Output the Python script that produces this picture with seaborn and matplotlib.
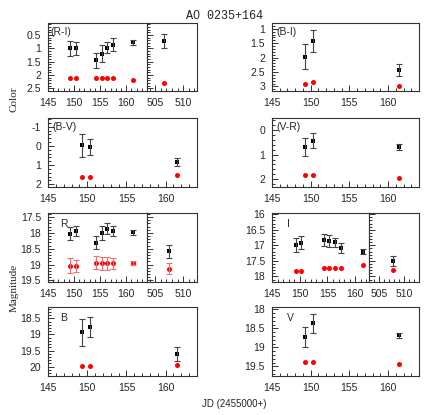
import matplotlib
matplotlib.use("Agg")
import matplotlib.pyplot as plt
import seaborn as sns
from matplotlib.ticker import MultipleLocator

sns.set_style("ticks")
plt.rcParams['font.family'] = ['Liberation Sans', 'DejaVu Sans']

W, H = 443, 415

# JD - 2455000 of the observing nights
jd_all = [149.3, 150.3, 154.3, 155.3, 156.4, 157.4, 161.4]
jd_bv = [149.3, 150.3, 161.4]

# (R-I) colour
ri_val = [1.0, 1.0, 1.45, 1.2, 0.97, 0.86, 0.78]
ri_err = [0.27, 0.25, 0.27, 0.32, 0.22, 0.24, 0.11]
ri_ref = [2.12, 2.12, 2.1, 2.1, 2.1, 2.1, 2.17]
ri_late_jd = [506.5]
ri_late_val = [0.72]
ri_late_err = [0.27]
ri_late_ref = [2.3]

# (B-I) colour
bi_val = [1.97, 1.43, 2.43]
bi_err = [0.44, 0.37, 0.21]
bi_ref = [2.9, 2.86, 3.0]

# (B-V) colour
bv_val = [-0.03, 0.05, 0.84]
bv_err = [0.58, 0.42, 0.22]
bv_ref = [1.6, 1.6, 1.54]

# (V-R) colour
vr_val = [0.69, 0.42, 0.69]
vr_err = [0.36, 0.31, 0.11]
vr_ref = [1.83, 1.82, 1.97]

# R magnitude
r_val = [18.02, 17.93, 18.31, 18.0, 17.86, 17.95, 17.98]
r_err = [0.21, 0.16, 0.21, 0.21, 0.17, 0.16, 0.07]
r_ref = [19.03, 19.05, 18.94, 18.96, 18.96, 18.96, 18.95]
r_ref_err = [0.23, 0.18, 0.2, 0.21, 0.2, 0.18, 0.05]
r_late_jd = [507.4]
r_late_val = [18.58]
r_late_err = [0.2]
r_late_ref = [19.13]
r_late_ref_err = [0.18]

# I magnitude
i_val = [16.99, 16.92, 16.83, 16.87, 16.9, 17.1, 17.2]
i_err = [0.21, 0.21, 0.19, 0.19, 0.15, 0.16, 0.08]
i_ref = [17.81, 17.84, 17.72, 17.74, 17.73, 17.74, 17.64]
i_late_jd = [507.7]
i_late_val = [17.5]
i_late_err = [0.15]
i_late_ref = [17.8]

# B magnitude
b_val = [18.94, 18.78, 19.6]
b_err = [0.41, 0.31, 0.21]
b_ref = [19.97, 19.97, 19.96]

# V magnitude
v_val = [18.72, 18.37, 18.68]
v_err = [0.26, 0.25, 0.07]
v_ref = [19.38, 19.38, 19.43]


fig = plt.figure(figsize=(W / 100, H / 100), dpi=100)


def make_ax(x0, x1, top, bottom):
    ax = fig.add_axes([x0 / W, 1 - bottom / H, (x1 - x0) / W, (bottom - top) / H])
    for sp in ax.spines.values():
        sp.set_linewidth(0.8)
        sp.set_color('#333333')
    ax.tick_params(which='both', direction='in', labelsize=7.5, pad=5,
                   color='#333333', width=0.7)
    ax.tick_params(which='major', length=4)
    ax.tick_params(which='minor', length=2)
    return ax


def style(ax, ylim, ymaj, ymin, xlim, xlabels=True, ylabels=True):
    ax.set_ylim(*ylim)
    ax.set_xlim(*xlim)
    ax.yaxis.set_major_locator(MultipleLocator(ymaj))
    ax.yaxis.set_minor_locator(MultipleLocator(ymin))
    ax.xaxis.set_major_locator(MultipleLocator(5))
    ax.xaxis.set_minor_locator(MultipleLocator(1))
    ax.yaxis.set_major_formatter(plt.FuncFormatter(lambda v, p: f"{v:g}"))
    ax.tick_params(labelleft=ylabels, labelbottom=xlabels)
    ax.set_xlabel('')
    ax.set_ylabel('')


def draw(ax, x, y, yerr, ref, ref_err=None):
    ax.errorbar(x, y, yerr=yerr, fmt='none', ecolor='#444444',
                elinewidth=0.8, capsize=2, capthick=0.8)
    if ref_err is not None:
        ax.errorbar(x, ref, yerr=ref_err, fmt='none', ecolor='#f07070',
                    elinewidth=0.8, capsize=2, capthick=0.8)
    sns.scatterplot(x=x, y=y, ax=ax, color='black', marker='s', s=9,
                    linewidth=0, legend=False)
    sns.scatterplot(x=x, y=ref, ax=ax, color='red', marker='o', s=13,
                    linewidth=0, legend=False)


def label(ax, txt, dx, dy):
    ax.annotate(txt, xy=(0, 1), xycoords='axes fraction', xytext=(dx, -dy),
                textcoords='offset pixels', ha='left', va='top', fontsize=7.5)


rows = [(23, 91), (118, 187), (213, 282), (307, 376)]
LX0, LBRK, LX1 = 48, 147, 197
RX0, RX1 = 272, 419

# row 1 left: (R-I), broken axis
t, b = rows[0]
ax = make_ax(LX0, LBRK, t, b)
draw(ax, jd_all, ri_val, ri_err, ri_ref)
style(ax, (2.6, 0.05), 0.5, 0.1, (145, 164))
label(ax, '(R-I)', 2, 4)
ax2 = make_ax(LBRK, LX1, t, b)
draw(ax2, ri_late_jd, ri_late_val, ri_late_err, ri_late_ref)
style(ax2, (2.6, 0.05), 0.5, 0.1, (503.5, 512.5), ylabels=False)

# row 1 right: (B-I)
ax = make_ax(RX0, RX1, t, b)
draw(ax, jd_bv, bi_val, bi_err, bi_ref)
style(ax, (3.16, 0.8), 0.5, 0.1, (145, 164))
label(ax, '(B-I)', 4, 4)

# row 2 left: (B-V)
t, b = rows[1]
ax = make_ax(LX0, LX1, t, b)
draw(ax, jd_bv, bv_val, bv_err, bv_ref)
style(ax, (2.14, -1.46), 1, 0.2, (145, 164))
label(ax, '(B-V)', 4, 4)

# row 2 right: (V-R)
ax = make_ax(RX0, RX1, t, b)
draw(ax, jd_bv, vr_val, vr_err, vr_ref)
style(ax, (2.32, -0.5), 1, 0.2, (145, 164))
label(ax, '(V-R)', 4, 4)

# row 3 left: R, broken axis
t, b = rows[2]
ax = make_ax(LX0, LBRK, t, b)
draw(ax, jd_all, r_val, r_err, r_ref, r_ref_err)
style(ax, (19.55, 17.37), 0.5, 0.1, (145, 164))
label(ax, 'R', 12, 6)
ax2 = make_ax(LBRK, LX1, t, b)
draw(ax2, r_late_jd, r_late_val, r_late_err, r_late_ref, r_late_ref_err)
style(ax2, (19.55, 17.37), 0.5, 0.1, (503.5, 512.5), ylabels=False)

# row 3 right: I, broken axis
IBRK = 369
ax = make_ax(RX0, IBRK, t, b)
draw(ax, jd_all, i_val, i_err, i_ref)
style(ax, (18.18, 15.96), 0.5, 0.1, (145, 162.5))
label(ax, 'I', 15, 6)
ax2 = make_ax(IBRK, RX1, t, b)
draw(ax2, i_late_jd, i_late_val, i_late_err, i_late_ref)
style(ax2, (18.18, 15.96), 0.5, 0.1, (503, 513), ylabels=False)

# row 4 left: B
t, b = rows[3]
ax = make_ax(LX0, LX1, t, b)
draw(ax, jd_bv, b_val, b_err, b_ref)
style(ax, (20.29, 18.15), 0.5, 0.1, (145, 164))
label(ax, 'B', 12, 6)

# row 4 right: V
ax = make_ax(RX0, RX1, t, b)
draw(ax, jd_bv, v_val, v_err, v_ref)
style(ax, (19.75, 17.94), 0.5, 0.1, (145, 164))
label(ax, 'V', 15, 6)

fig.text(224 / W, 1 - 16 / H, 'AO 0235+164', ha='center', va='center',
         fontsize=8.5, family='Liberation Mono')
fig.text(14 / W, 1 - 99 / H, 'Color', rotation=90, ha='center', va='center',
         fontsize=8, family='Liberation Serif')
fig.text(14 / W, 1 - 288 / H, 'Magnitude', rotation=90, ha='center',
         va='center', fontsize=8, family='Liberation Serif')
fig.text(234 / W, 1 - 404 / H, 'JD (2455000+)', ha='center', va='center',
         fontsize=7)

fig.savefig('out.png', dpi=100)
